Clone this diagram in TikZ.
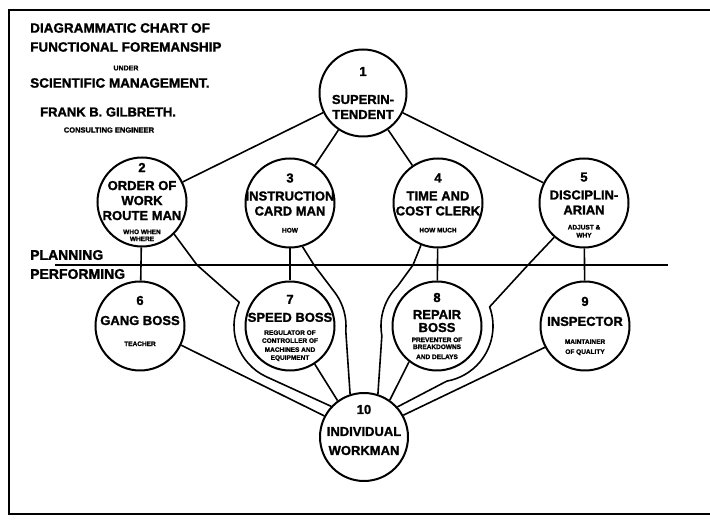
\documentclass[tikz,border=0pt]{standalone}
\usepackage{fontspec}
\setmainfont{Liberation Sans}[BoldFeatures={FakeBold=1.5}]
\usetikzlibrary{calc}

\tikzset{
  boss/.style={circle, draw, line width=2pt, minimum size=89pt, inner sep=0pt},
  duty/.style={align=center, inner sep=0pt, font=\fontsize{13}{15}\selectfont\bfseries},
  heading/.style={anchor=west, inner sep=0pt, font=\fontsize{13.5}{15}\selectfont\bfseries},
  link/.style={line width=1.6pt, line join=round},
}
\newcommand{\smalltag}[1]{{\fontsize{6.5}{8}\selectfont #1}}

\begin{document}
\begin{tikzpicture}[x=1pt,y=1pt]
        \useasboundingbox (0,0) rectangle (710,522);

        % frame
        \coordinate (ftr) at (710,512);
        \coordinate (ftl) at (9,512);
        \coordinate (fbl) at (9,8);
        \coordinate (fbr) at (710,8);
        \draw[line width=2pt] (ftr) -- (ftl) -- (fbl) -- (fbr);

        % heading
        \node[heading] (hd1) at (30,494) {DIAGRAMMATIC CHART OF};
        \node[heading] (hd2) at (30,475) {FUNCTIONAL FOREMANSHIP};
        \node[inner sep=0pt, font=\fontsize{7}{8}\selectfont\bfseries] (under) at (126,454) {UNDER};
        \node[heading] (hd3) at (30,439) {SCIENTIFIC MANAGEMENT.};
        \node[heading, font=\fontsize{13}{15}\selectfont\bfseries] (author) at (40,410) {FRANK B. GILBRETH.};
        \node[inner sep=0pt, font=\fontsize{7.5}{8}\selectfont\bfseries] (role) at (109,392) {CONSULTING ENGINEER};

        % planning / performing
        \coordinate (pl) at (55,257);
        \coordinate (pr) at (668,257);
        \draw[link] (pl) -- (pr);
        \node[heading, font=\fontsize{14}{15}\selectfont\bfseries] (plan) at (30,267) {PLANNING};
        \node[heading, font=\fontsize{14}{15}\selectfont\bfseries] (perf) at (30,248) {PERFORMING};

        % foremen and workman
        \node[boss, minimum size=87pt] (c1) at (363,429) {};
        \node[boss] (c2) at (142,320) {};
        \node[boss] (c3) at (290,319) {};
        \node[boss] (c4) at (438,319) {};
        \node[boss] (c5) at (584,319) {};
        \node[boss] (c6) at (140,196) {};
        \node[boss] (c7) at (290,196) {};
        \node[boss] (c8) at (437,196) {};
        \node[boss] (c9) at (585,196) {};
        \node[boss, minimum size=88pt] (c10) at (364,85) {};

        \node[duty] (t1) at (c1) {1\\[13pt]SUPERIN-\\TENDENT};
        \node[duty] (t2) at (c2) {2\\[3pt]ORDER OF\\WORK\\ROUTE MAN\\[-1pt]\smalltag{WHO WHEN}\\[-8pt]\smalltag{WHERE}};
        \node[duty] (t3) at (c3) {3\\[3pt]INSTRUCTION\\CARD MAN\\[2pt]\smalltag{HOW}};
        \node[duty] (t4) at (c4) {4\\[3pt]TIME AND\\COST CLERK\\[2pt]\smalltag{HOW MUCH}};
        \node[duty, yshift=-2pt] (t5) at (c5) {5\\[3pt]DISCIPLIN-\\ARIAN\\[0pt]\smalltag{ADJUST \&}\\[-7pt]\smalltag{WHY}};
        \node[duty, yshift=5pt] (t6) at (c6) {6\\[5pt]GANG BOSS\\[6pt]\smalltag{TEACHER}};
        \node[duty, yshift=-2pt] (t7) at (c7) {7\\[3pt]SPEED BOSS\\[-2pt]\smalltag{REGULATOR OF}\\[-7pt]\smalltag{CONTROLLER OF}\\[-6pt]\smalltag{MACHINES AND}\\[-7pt]\smalltag{EQUIPMENT}};
        \node[duty] (t8) at (c8) {8\\[2pt]REPAIR\\[-2pt]BOSS\\[-5pt]\smalltag{PREVENTER OF}\\[-8pt]\smalltag{BREAKDOWNS}\\[-5pt]\smalltag{AND DELAYS}};
        \node[duty] (t9) at (c9) {9\\[5pt]INSPECTOR\\[3pt]\smalltag{MAINTAINER}\\[-5pt]\smalltag{OF QUALITY}};
        \node[duty, yshift=7pt] (t10) at (c10) {10\\[7pt]INDIVIDUAL\\[4pt]WORKMAN};

        % superintendent to planning bosses
        \draw[link] (c1) -- (c2);
        \draw[link] (c1) -- (c3);
        \draw[link] (c1) -- (c4);
        \draw[link] (c1) -- (c5);

        % planning to performing
        \draw[link] (c2) -- (c6);
        \draw[link] (c3) -- (c7);
        \draw[link] (c4) -- (c8);
        \draw[link] (c5) -- (c9);

        % every boss to the workman
        \draw[link] (c6.-25) -- (c10.152);
        \draw[link] (c2.-45) -- (197,257) -- ($(c7)+(155:56)$) arc[start angle=155, end angle=245, radius=56] -- (c10.137);
        \draw[link] (c7.-57) -- (c10.126);
        \draw[link] (c3.-74) -- (314,257) -- ($(c7)+(35:56)$) arc[start angle=35, end angle=-5, radius=56] -- (c10.108);
        \draw[link] (c4.-112) -- (413,257) -- ($(c8)+(135:56)$) arc[start angle=135, end angle=190, radius=56] -- (c10.72);
        \draw[link] (c8.-128) -- (c10.55);
        \draw[link] (c5.-131) -- (528,257) -- ($(c8)+(20:56)$) arc[start angle=20, end angle=-80, radius=56] -- (c10.42);
        \draw[link] (c9.-152) -- (c10.29);
    \end{tikzpicture}
\end{document}
